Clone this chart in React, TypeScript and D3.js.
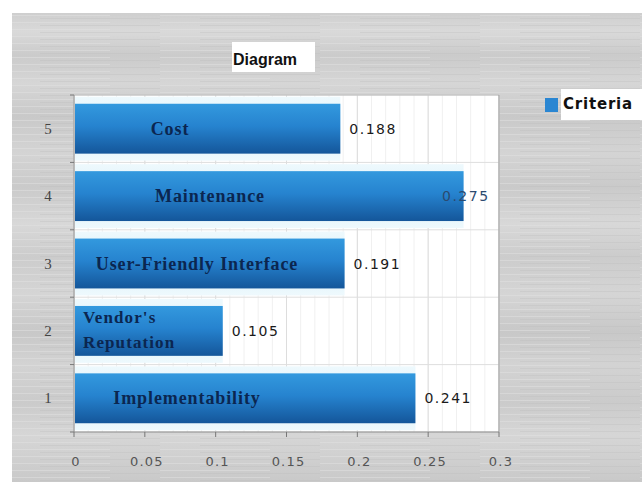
import React from "react";
import * as d3 from "d3";

const categories = ["1", "2", "3", "4", "5"];
const criteriaNames = ["Implementability", "Vendor's Reputation", "User-Friendly Interface", "Maintenance", "Cost"];
const values = [0.241, 0.105, 0.191, 0.275, 0.188];
const xTicks = [0, 0.05, 0.1, 0.15, 0.2, 0.25, 0.3];
const titleText = "Diagram";
const legendText = "Criteria";

// layout constants (pixels relative to plot left) for the hand-placed category labels
const nameOffsets = [113, 9, 123, 136, 96];
const nameAnchors = ["middle", "start", "middle", "middle", "middle"];

const W = 642;
const H = 482;
const plot = { left: 74, right: 499, top: 95, bottom: 432 };

const streakStops = [
  [0, "#cfcfcf"], [0.04, "#d9d9d9"], [0.09, "#cbcbcb"], [0.15, "#d6d6d6"], [0.22, "#c9c9c9"],
  [0.3, "#d4d4d4"], [0.37, "#cacaca"], [0.45, "#d8d8d8"], [0.52, "#cccccc"], [0.6, "#d5d5d5"],
  [0.68, "#c8c8c8"], [0.75, "#d3d3d3"], [0.83, "#cbcbcb"], [0.9, "#d6d6d6"], [1, "#c9c9c9"],
];

export default function App() {
  const x = d3.scaleLinear().domain([0, 0.3]).range([plot.left, plot.right]);
  const y = d3
    .scaleBand<string>()
    .domain([...categories].reverse())
    .range([plot.top, plot.bottom])
    .paddingInner(0.26)
    .paddingOuter(0.13);
  const band = (plot.bottom - plot.top) / categories.length;
  const minorTicks = d3.range(0, 0.3001, 0.01);
  const boundaries = d3.range(categories.length + 1).map((i) => plot.top + i * band);

  return (
    <svg width={W} height={H} style={{ position: "absolute", left: 0, top: 0, background: "#fff" }}>
      <defs>
        <linearGradient id="panelBg" x1="0" y1="0" x2="0" y2="1">
          {streakStops.map(([o, c], i) => (
            <stop key={i} offset={o as number} stopColor={c as string} />
          ))}
        </linearGradient>
        <pattern id="brush" width="160" height="7" patternUnits="userSpaceOnUse">
          <rect x="0" y="1" width="110" height="1" fill="#e2e2e2" opacity="0.5" />
          <rect x="40" y="4" width="120" height="1" fill="#bdbdbd" opacity="0.35" />
        </pattern>
        <linearGradient id="barGrad" x1="0" y1="0" x2="0" y2="1">
          <stop offset="0" stopColor="#3399de" />
          <stop offset="0.45" stopColor="#2683cf" />
          <stop offset="1" stopColor="#14569a" />
        </linearGradient>
        <linearGradient id="glowGrad" x1="0" y1="0" x2="0" y2="1">
          <stop offset="0" stopColor="#eef9fd" />
          <stop offset="0.5" stopColor="#d9f0fa" />
          <stop offset="1" stopColor="#eef9fd" />
        </linearGradient>
      </defs>

      <rect x={12} y={13} width={W - 12} height={H - 13} fill="url(#panelBg)" />
      <rect x={12} y={13} width={W - 12} height={H - 13} fill="url(#brush)" />

      {/* title */}
      <rect x={232} y={42} width={83} height={30} fill="#fff" />
      <text x={265} y={65} textAnchor="middle" fontFamily="Liberation Sans, Arial, sans-serif" fontWeight="bold" fontSize={16} fill="#111">
        {titleText}
      </text>

      {/* legend */}
      <rect x={561} y={89} width={81} height={31} fill="#fff" />
      <rect x={545} y={98} width={13} height={14} fill="#2a86d2" />
      <text x={563} y={109} fontFamily="DejaVu Sans, sans-serif" fontWeight="bold" fontSize={15} letterSpacing={0.8} fill="#111">
        {legendText}
      </text>

      {/* plot area */}
      <rect x={plot.left} y={plot.top} width={plot.right - plot.left} height={plot.bottom - plot.top} fill="#fff" />
      {minorTicks.map((t, i) => (
        <line key={"m" + i} x1={x(t)} x2={x(t)} y1={plot.top} y2={plot.bottom} stroke="#f0f0f0" strokeWidth={1} />
      ))}
      {xTicks.map((t, i) => (
        <line key={"g" + i} x1={x(t)} x2={x(t)} y1={plot.top} y2={plot.bottom} stroke="#dddddd" strokeWidth={1} />
      ))}
      {boundaries.map((b, i) => (
        <line key={"h" + i} x1={plot.left} x2={plot.right} y1={b} y2={b} stroke="#dedede" strokeWidth={1} />
      ))}

      {/* bars */}
      {categories.map((c, i) => {
        const by = y(c)!;
        const bh = y.bandwidth();
        return (
          <g key={"bar" + c}>
            <rect x={plot.left + 1} y={by - 7} width={x(values[i]) - plot.left - 1} height={bh + 14} fill="url(#glowGrad)" />
            <rect x={plot.left + 1} y={by} width={x(values[i]) - plot.left - 1} height={bh} fill="url(#barGrad)" />
          </g>
        );
      })}

      {/* category names inside bars */}
      {categories.map((c, i) => {
        const cy = y(c)! + y.bandwidth() / 2;
        const words = criteriaNames[i].split(" ");
        const twoLine = nameAnchors[i] === "start";
        return (
          <text
            key={"n" + c}
            x={plot.left + nameOffsets[i]}
            y={twoLine ? cy - 8 : cy + 6}
            textAnchor={nameAnchors[i] as any}
            fontFamily="Liberation Serif, Times New Roman, serif"
            fontWeight="bold"
            fontSize={twoLine ? 17 : 18}
            letterSpacing={twoLine ? 1.1 : 0.9}
            fill="#0b2650"
          >
            {twoLine ? (
              <>
                <tspan x={plot.left + nameOffsets[i]}>{words[0]}</tspan>
                <tspan x={plot.left + nameOffsets[i]} dy={25}>{words.slice(1).join(" ")}</tspan>
              </>
            ) : (
              criteriaNames[i]
            )}
          </text>
        );
      })}

      {/* value labels */}
      {categories.map((c, i) => {
        const cy = y(c)! + y.bandwidth() / 2;
        const lx = Math.min(x(values[i]) + 9, plot.right - 57);
        const inside = lx < x(values[i]);
        return (
          <text
            key={"v" + c}
            x={lx}
            y={cy + 5}
            fontFamily="DejaVu Sans, sans-serif"
            fontSize={14}
            letterSpacing={1.5}
            fill={inside ? "#2b4a70" : "#1a1a1a"}
          >
            {values[i].toFixed(3)}
          </text>
        );
      })}

      {/* axes */}
      <line x1={plot.left} x2={plot.right} y1={plot.top} y2={plot.top} stroke="#bbbbbb" />
      <line x1={plot.right} x2={plot.right} y1={plot.top} y2={plot.bottom} stroke="#999999" />
      <line x1={plot.left} x2={plot.left} y1={plot.top} y2={plot.bottom} stroke="#8a8a8a" />
      <line x1={plot.left} x2={plot.right} y1={plot.bottom} y2={plot.bottom} stroke="#8a8a8a" />
      {xTicks.map((t, i) => (
        <g key={"xt" + i}>
          <line x1={x(t)} x2={x(t)} y1={plot.bottom} y2={plot.bottom + 5} stroke="#777" />
          <text x={x(t) + 2} y={466} textAnchor="middle" fontFamily="DejaVu Sans, sans-serif" fontSize={13} letterSpacing={1.2} fill="#555">
            {String(t)}
          </text>
        </g>
      ))}
      {boundaries.map((b, i) => (
        <line key={"yt" + i} x1={plot.left - 4} x2={plot.left} y1={b} y2={b} stroke="#777" />
      ))}
      {categories.map((c) => (
        <text
          key={"yl" + c}
          x={48}
          y={y(c)! + y.bandwidth() / 2 + 5}
          textAnchor="middle"
          fontFamily="Liberation Serif, Times New Roman, serif"
          fontSize={15}
          fill="#444"
        >
          {c}
        </text>
      ))}
    </svg>
  );
}
